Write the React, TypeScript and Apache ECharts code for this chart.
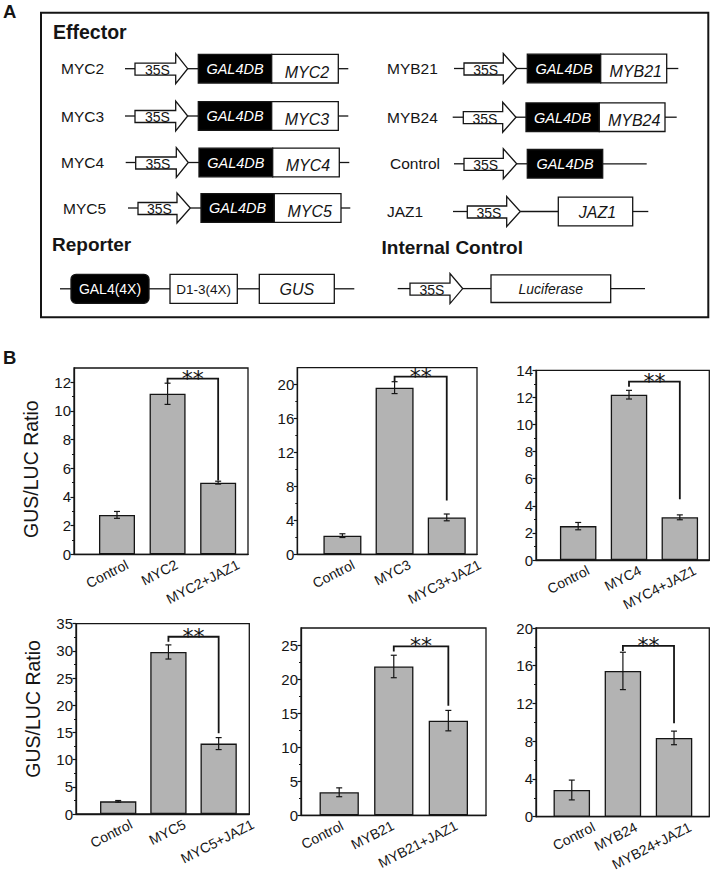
import React, { useEffect, useRef } from "react";
import * as echarts from "echarts";

// ---------------- Panel B data ----------------
const categories1 = ["Control", "MYC2", "MYC2+JAZ1"];
const values1 = [2.75, 11.2, 5.0];
const errors1 = [0.24, 0.74, 0.1];

const categories2 = ["Control", "MYC3", "MYC3+JAZ1"];
const values2 = [2.2, 19.65, 4.35];
const errors2 = [0.22, 0.7, 0.4];

const categories3 = ["Control", "MYC4", "MYC4+JAZ1"];
const values3 = [2.5, 12.2, 3.15];
const errors3 = [0.27, 0.32, 0.18];

const categories4 = ["Control", "MYC5", "MYC5+JAZ1"];
const values4 = [2.33, 29.8, 12.95];
const errors4 = [0.15, 1.3, 1.1];

const categories5 = ["Control", "MYB21", "MYB21+JAZ1"];
const values5 = [3.38, 21.85, 13.9];
const errors5 = [0.65, 1.65, 1.5];

const categories6 = ["Control", "MYB24", "MYB24+JAZ1"];
const values6 = [2.83, 15.45, 8.35];
const errors6 = [1.05, 1.98, 0.72];

// significance bracket: height of the bar, and where its right leg stops
const bracketLevels = [12.26, 20.95, 13.16, 32.6, 24.8, 18.1];
const bracketEnds = [5.15, 6.34, 4.48, 14.85, 16.07, 9.9];
const significance = ["**", "**", "**", "**", "**", "**"];

// y axis ranges and tick labels
const yMaxes = [13, 22, 14, 35, 27.5, 20];
const yTicks1 = [0, 2, 4, 6, 8, 10, 12];
const yTicks2 = [0, 4, 8, 12, 16, 20];
const yTicks3 = [0, 2, 4, 6, 8, 10, 12, 14];
const yTicks4 = [0, 5, 10, 15, 20, 25, 30, 35];
const yTicks5 = [0, 5, 10, 15, 20, 25];
const yTicks6 = [0, 4, 8, 12, 16, 20];
const yMinor1 = [1, 3, 5, 7, 9, 11];
const yMinor2 = [2, 6, 10, 14, 18];
const yMinor3 = [1, 3, 5, 7, 9, 11, 13];
const yMinor4 = [2.5, 7.5, 12.5, 17.5, 22.5, 27.5, 32.5];
const yMinor5 = [2.5, 7.5, 12.5, 17.5, 22.5];
const yMinor6 = [2, 6, 10, 14, 18];
const yTitle = "GUS/LUC Ratio";

const panels = [
  { cats: categories1, vals: values1, errs: errors1, ticks: yTicks1, minor: yMinor1 },
  { cats: categories2, vals: values2, errs: errors2, ticks: yTicks2, minor: yMinor2 },
  { cats: categories3, vals: values3, errs: errors3, ticks: yTicks3, minor: yMinor3 },
  { cats: categories4, vals: values4, errs: errors4, ticks: yTicks4, minor: yMinor4 },
  { cats: categories5, vals: values5, errs: errors5, ticks: yTicks5, minor: yMinor5 },
  { cats: categories6, vals: values6, errs: errors6, ticks: yTicks6, minor: yMinor6 },
];

// ---------------- layout (positions / sizes) ----------------
const layout = [
  { left: 74, top: 368, width: 174, height: 186.3, xMin: 0.15, xMax: 3.59, barWidth: 36, labelDx: [7, 6, 17], title: true, titlePad: [0, 16, 0, 0] },
  { left: 297.3, top: 367.7, width: 179.7, height: 186.6, xMin: 0.135, xMax: 3.58, barWidth: 38, labelDx: [8, 12, 30], title: false, titlePad: [0, 0, 0, 0] },
  { left: 536, top: 370.3, width: 173.3, height: 189.7, xMin: 0.17, xMax: 3.58, barWidth: 36.5, labelDx: [7, 8, 12], title: false, titlePad: [0, 0, 0, 0] },
  { left: 76, top: 623.7, width: 173.3, height: 190.3, xMin: 0.16, xMax: 3.61, barWidth: 36.3, labelDx: [10, 13, 31], title: true, titlePad: [0, 0, 0, 20] },
  { left: 301, top: 628, width: 185, height: 187.3, xMin: 0.3, xMax: 3.69, barWidth: 39.3, labelDx: [0, -4, 5], title: false, titlePad: [0, 0, 0, 0] },
  { left: 536, top: 628, width: 173.3, height: 188.7, xMin: 0.3, xMax: 3.69, barWidth: 36.5, labelDx: [19, 10, 13], title: false, titlePad: [0, 0, 0, 0] },
];

const INK = "#151515";
const FONT = "Liberation Sans, Arial, sans-serif";
const BAR = "#b3b3b3";
const LABEL_ROT = (27 * Math.PI) / 180;

// ---------------- Panel A schematic ----------------
type Row = {
  label: string; gene?: string; lx: number; cy: number; l0: number; b0: number; hb: number; tip: number;
  k0: number; k1?: number; k2?: number; end: number; black: boolean;
};
const effectorRows: Row[] = [
  { label: "MYC2", gene: "MYC2", lx: 61, cy: 68.7, l0: 125, b0: 135, hb: 175.7, tip: 187.7, k0: 198.3, k1: 271.7, k2: 338.3, end: 348.3, black: true },
  { label: "MYC3", gene: "MYC3", lx: 61, cy: 116, l0: 125, b0: 135, hb: 175.7, tip: 187.7, k0: 198.3, k1: 271.7, k2: 338.3, end: 348.3, black: true },
  { label: "MYC4", gene: "MYC4", lx: 61, cy: 162.5, l0: 125.7, b0: 135.7, hb: 176.3, tip: 188.3, k0: 199, k1: 272.7, k2: 339.3, end: 349.3, black: true },
  { label: "MYC5", gene: "MYC5", lx: 63, cy: 208, l0: 128, b0: 138, hb: 177, tip: 190.3, k0: 201, k1: 274.3, k2: 341, end: 350.3, black: true },
  { label: "MYB21", gene: "MYB21", lx: 387, cy: 68.5, l0: 454, b0: 464, hb: 503.3, tip: 516.7, k0: 527.3, k1: 600.7, k2: 666.7, end: 678.3, black: true },
  { label: "MYB24", gene: "MYB24", lx: 387, cy: 117.2, l0: 452.7, b0: 463.3, hb: 502.7, tip: 516, k0: 526, k1: 599.3, k2: 665, end: 676.7, black: true },
  { label: "Control", lx: 390, cy: 163.8, l0: 454, b0: 464, hb: 503.3, tip: 516.7, k0: 527.3, k1: 602.7, end: 646.7, black: true },
  { label: "JAZ1", gene: "JAZ1", lx: 387, cy: 211.5, l0: 453, b0: 467.3, hb: 506.7, tip: 520.3, k0: 558.3, k2: 632.7, end: 648.3, black: false },
];

function ln(x1: number, y1: number, x2: number, y2: number, w = 1.3) {
  return { type: "line", silent: true, shape: { x1, y1, x2, y2 }, style: { stroke: INK, lineWidth: w } };
}
function rect(x: number, y: number, w: number, h: number, fill: string, r = 0) {
  return { type: "rect", silent: true, shape: { x, y, width: w, height: h, r }, style: { fill, stroke: INK, lineWidth: 1.3 } };
}
function txt(text: string, x: number, y: number, size: number, o: any = {}) {
  return {
    type: "text", silent: true, x, y,
    style: {
      text, fill: o.fill || INK, fontSize: size, fontFamily: FONT,
      fontWeight: o.bold ? "bold" : "normal", fontStyle: o.italic ? "italic" : "normal",
      align: o.align || "left", verticalAlign: "middle",
    },
  };
}
function promoter(b0: number, hb: number, tip: number, cy: number) {
  return [
    {
      type: "polygon", silent: true,
      shape: { points: [[b0, cy - 5.5], [hb, cy - 5.5], [hb, cy - 15], [tip, cy], [hb, cy + 15], [hb, cy + 6.5], [b0, cy + 6.5]] },
      style: { fill: "#fff", stroke: INK, lineWidth: 1.3 },
    },
    txt("35S", (b0 + hb) / 2 + 2, cy + 1.3, 14, { align: "center" }),
  ];
}

function buildSchematic() {
  const els: any[] = [];
  els.push(txt("A", 3, 11.7, 18.5, { bold: true }));
  els.push(txt("B", 3, 357.5, 18.5, { bold: true }));
  els.push({ type: "rect", silent: true, shape: { x: 41, y: 12.7, width: 667.3, height: 304.5 }, style: { fill: "none", stroke: INK, lineWidth: 2 } });
  els.push(txt("Effector", 53, 32.3, 19.5, { bold: true }));
  els.push(txt("Reporter", 52, 244.3, 19, { bold: true }));
  els.push(txt("Internal Control", 381.5, 247.6, 19, { bold: true }));

  for (const r of effectorRows) {
    const h = 14.3;
    els.push(txt(r.label, r.lx, r.cy, 15.5));
    els.push(ln(r.l0, r.cy, r.b0, r.cy));
    els.push(ln(r.tip, r.cy, r.k0, r.cy));
    if (r.black) {
      els.push(rect(r.k0, r.cy - h, (r.k1 as number) - r.k0, 2 * h, "#000"));
      els.push(txt("GAL4DB", (r.k0 + (r.k1 as number)) / 2, r.cy + 0.3, 14.5, { fill: "#fff", italic: true, align: "center" }));
      if (r.gene) {
        els.push(rect(r.k1 as number, r.cy - h, (r.k2 as number) - (r.k1 as number), 2 * h, "#fff"));
        els.push(txt(r.gene, ((r.k1 as number) + (r.k2 as number)) / 2 + 2, r.cy + 3.3, 16, { italic: true, align: "center" }));
        els.push(ln(r.k2 as number, r.cy, r.end, r.cy));
      } else {
        els.push(ln(r.k1 as number, r.cy, r.end, r.cy));
      }
    } else {
      els.push(rect(r.k0, r.cy - h, (r.k2 as number) - r.k0, 2 * h, "#fff"));
      els.push(txt(r.gene as string, (r.k0 + (r.k2 as number)) / 2 + 2, r.cy + 0.5, 16, { italic: true, align: "center" }));
      els.push(ln(r.k2 as number, r.cy, r.end, r.cy));
    }
    els.push(...promoter(r.b0, r.hb, r.tip, r.cy));
  }

  // Reporter construct
  const rc = 288.8;
  els.push(ln(60, rc, 71, rc));
  els.push(rect(71, rc - 14.5, 78, 29, "#000", 5));
  els.push(txt("GAL4(4X)", 110, rc + 0.5, 14, { fill: "#fff", align: "center" }));
  els.push(ln(149, rc, 170, rc));
  els.push(rect(170, rc - 14.5, 67.3, 29, "#fff"));
  els.push(txt("D1-3(4X)", 203.7, rc + 0.5, 13.5, { align: "center" }));
  els.push(ln(237.3, rc, 259.3, rc));
  els.push(rect(259.3, rc - 14.5, 75, 29, "#fff"));
  els.push(txt("GUS", 296.8, rc + 1, 16, { italic: true, align: "center" }));
  els.push(ln(334.3, rc, 354.3, rc));

  // Internal control construct
  const ic = 288.6;
  els.push(ln(397.7, ic, 410, ic));
  els.push(ln(462.7, ic, 491, ic));
  els.push(rect(491, ic - 13.8, 119.7, 27.7, "#fff"));
  els.push(txt("Luciferase", 550.8, ic + 0.5, 14, { italic: true, align: "center" }));
  els.push(ln(610.7, ic, 645, ic));
  els.push(...promoter(410, 450, 462.7, ic));
  return els;
}

function buildOption() {
  const grid: any[] = [];
  const xAxis: any[] = [];
  const yAxis: any[] = [];
  const series: any[] = [];

  panels.forEach((p, i) => {
    const L = layout[i];
    grid.push({ left: L.left, top: L.top, width: L.width, height: L.height, show: true, borderColor: INK, borderWidth: 1.3, backgroundColor: "transparent", containLabel: false });
    xAxis.push({
      type: "value", gridIndex: i, min: L.xMin, max: L.xMax,
      axisLine: { show: true, lineStyle: { color: INK, width: 1.3 } },
      axisTick: { show: false }, axisLabel: { show: false }, splitLine: { show: false },
    });
    yAxis.push({
      type: "value", gridIndex: i, position: "left", min: 0, max: yMaxes[i],
      axisLine: { show: true, lineStyle: { color: INK, width: 1.3 } },
      axisTick: { show: true, inside: false, length: 3.5, customValues: p.ticks, lineStyle: { color: INK, width: 1.2 } },
      axisLabel: { show: true, customValues: p.ticks, fontSize: 15, fontFamily: FONT, color: INK, margin: 3 },
      splitLine: { show: false },
      name: L.title ? yTitle : "",
      nameLocation: "middle", nameGap: 33,
      nameTextStyle: { fontSize: 19.5, fontFamily: FONT, color: INK, padding: L.titlePad },
    });
    yAxis.push({
      type: "value", gridIndex: i, position: "left", offset: 0, min: 0, max: yMaxes[i],
      axisLine: { show: false },
      axisTick: { show: true, inside: false, length: 2, customValues: p.minor, lineStyle: { color: INK, width: 1 } },
      axisLabel: { show: false }, splitLine: { show: false },
    });
    const yIdx = 2 * i;
    series.push({
      type: "bar", xAxisIndex: i, yAxisIndex: yIdx, silent: true, barWidth: L.barWidth,
      data: p.vals.map((v, k) => [k + 1, v]),
      itemStyle: { color: BAR, borderColor: INK, borderWidth: 1.3 },
    });
    series.push({
      type: "custom", xAxisIndex: i, yAxisIndex: yIdx, silent: true, z: 5,
      itemStyle: { color: INK },
      data: p.vals.map((v, k) => [k + 1, v, p.errs[k]]),
      renderItem: (params: any, api: any) => {
        const x = api.value(0), v = api.value(1), e = api.value(2);
        const t = api.coord([x, v + e]);
        const b = api.coord([x, v - e]);
        const s = { stroke: INK, lineWidth: 1.2 };
        return {
          type: "group",
          children: [
            { type: "line", shape: { x1: t[0], y1: t[1], x2: b[0], y2: b[1] }, style: s },
            { type: "line", shape: { x1: t[0] - 3, y1: t[1], x2: t[0] + 3, y2: t[1] }, style: s },
            { type: "line", shape: { x1: b[0] - 3, y1: b[1], x2: b[0] + 3, y2: b[1] }, style: s },
          ],
        };
      },
    });
    series.push({
      type: "custom", xAxisIndex: i, yAxisIndex: yIdx, silent: true, z: 5,
      itemStyle: { color: INK },
      data: [[2, bracketLevels[i], 3, bracketEnds[i]]],
      renderItem: (params: any, api: any) => {
        const p1 = api.coord([api.value(0), api.value(1)]);
        const p2 = api.coord([api.value(2), api.value(1)]);
        const p3 = api.coord([api.value(2), api.value(3)]);
        return {
          type: "group",
          children: [
            { type: "polyline", shape: { points: [[p1[0], p1[1] + 5], p1, p2, p3] }, style: { stroke: INK, lineWidth: 1.8, fill: null } },
            {
              type: "text", x: (p1[0] + p2[0]) / 2, y: p1[1] - 0.5,
              style: { text: significance[i], fontSize: 22, fontFamily: "DejaVu Sans", fill: "#151515", align: "center", verticalAlign: "middle" },
            },
          ],
        };
      },
    });
    series.push({
      type: "custom", xAxisIndex: i, yAxisIndex: yIdx, silent: true, z: 5,
      itemStyle: { color: INK },
      data: p.cats.map((c, k) => [k + 1, 0]),
      renderItem: (params: any, api: any) => {
        const c = api.coord([api.value(0), 0]);
        const k = params.dataIndex;
        return {
          type: "text", x: c[0] + L.labelDx[k], y: c[1] + 3, rotation: LABEL_ROT,
          style: { text: p.cats[k], fontSize: 14, fontFamily: FONT, fill: INK, align: "right", verticalAlign: "top" },
        };
      },
    });
  });

  return {
    animation: false,
    backgroundColor: "#ffffff",
    grid, xAxis, yAxis, series,
    graphic: { elements: buildSchematic() },
  };
}

export default function App() {
  const ref = useRef<HTMLDivElement>(null);
  useEffect(() => {
    if (!ref.current) return;
    const chart = echarts.init(ref.current, undefined, { renderer: "svg" });
    chart.setOption(buildOption() as any);
    return () => chart.dispose();
  }, []);
  return <div ref={ref} style={{ position: "absolute", left: 0, top: 0, width: 714, height: 871 }} />;
}
